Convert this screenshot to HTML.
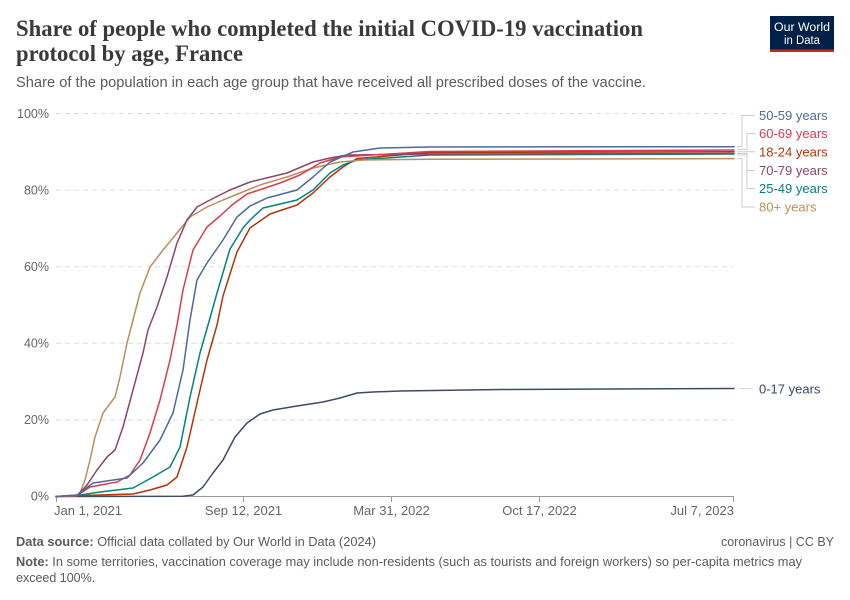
<!DOCTYPE html>
<html>
<head>
<meta charset="utf-8">
<style>
  html,body{margin:0;padding:0;background:#fff;}
  svg{display:block;font-family:"Liberation Sans",Arial,sans-serif;}
</style>
</head>
<body>
<svg width="850" height="600" viewBox="0 0 850 600" xmlns="http://www.w3.org/2000/svg">
  <rect x="0" y="0" width="850" height="600" fill="#fff"/>

  <!-- Title -->
  <text x="16" y="36" style="font-family:'Liberation Serif',serif;font-size:23px;font-weight:bold;" fill="#3a3a3a" textLength="627" lengthAdjust="spacingAndGlyphs">Share of people who completed the initial COVID-19 vaccination</text>
  <text x="16" y="61" style="font-family:'Liberation Serif',serif;font-size:23px;font-weight:bold;" fill="#3a3a3a" textLength="227" lengthAdjust="spacingAndGlyphs">protocol by age, France</text>
  <!-- Subtitle -->
  <text x="16" y="87" font-size="14.5" fill="#5b5b5b" textLength="630" lengthAdjust="spacingAndGlyphs">Share of the population in each age group that have received all prescribed doses of the vaccine.</text>

  <!-- Logo -->
  <rect x="770" y="16" width="64" height="36" fill="#002147"/>
  <rect x="770" y="49.5" width="64" height="2.5" fill="#ce261e"/>
  <text x="802" y="31" font-size="11.5" fill="#fff" text-anchor="middle" textLength="56" lengthAdjust="spacingAndGlyphs">Our World</text>
  <text x="802" y="44" font-size="11.5" fill="#fff" text-anchor="middle" textLength="36" lengthAdjust="spacingAndGlyphs">in Data</text>

  <!-- Gridlines -->
  <g stroke="#dddddd" stroke-width="1" stroke-dasharray="5,4">
    <line x1="56" y1="113.5" x2="733" y2="113.5"/>
    <line x1="56" y1="190.1" x2="733" y2="190.1"/>
    <line x1="56" y1="266.7" x2="733" y2="266.7"/>
    <line x1="56" y1="343.3" x2="733" y2="343.3"/>
    <line x1="56" y1="419.9" x2="733" y2="419.9"/>
  </g>

  <!-- Y labels -->
  <g font-size="12.5" fill="#666" text-anchor="end">
    <text x="49" y="118">100%</text>
    <text x="49" y="194.5">80%</text>
    <text x="49" y="271">60%</text>
    <text x="49" y="347.5">40%</text>
    <text x="49" y="424">20%</text>
    <text x="49" y="500.5">0%</text>
  </g>

  <!-- X axis -->
  <line x1="56" y1="496.5" x2="734" y2="496.5" stroke="#999" stroke-width="1"/>
  <g stroke="#999" stroke-width="1">
    <line x1="56.5" y1="496.5" x2="56.5" y2="502"/>
    <line x1="243.5" y1="496.5" x2="243.5" y2="502"/>
    <line x1="391.5" y1="496.5" x2="391.5" y2="502"/>
    <line x1="539.5" y1="496.5" x2="539.5" y2="502"/>
    <line x1="733.5" y1="496.5" x2="733.5" y2="502"/>
  </g>
  <g font-size="13" fill="#666">
    <text x="54" y="515">Jan 1, 2021</text>
    <text x="243.5" y="515" text-anchor="middle">Sep 12, 2021</text>
    <text x="391.5" y="515" text-anchor="middle">Mar 31, 2022</text>
    <text x="539.5" y="515" text-anchor="middle">Oct 17, 2022</text>
    <text x="734" y="515" text-anchor="end">Jul 7, 2023</text>
  </g>

  <!-- Series -->
  <g fill="none" stroke-width="1.5" stroke-linejoin="round" stroke-linecap="round">
    <!-- 0-17 -->
    <polyline stroke="#3d4b66" points="56,496.5 183,496.3 193,495 203,487 213,473 223,460 235,437 247,423 260,414 273,410 297,406 323,402 340,398 357,393 373,392 400,391 500,389.5 734,388.5"/>
    <!-- 18-24 -->
    <polyline stroke="#B13507" points="56,496.5 77,495.8 133,494 150,490 167,485 177,477 187,447 197,403 207,360 217,325 223,296 237,252 250,228 270,214 297,205 313,193 330,177 343,167 357,158.5 430,152.5 734,151.7"/>
    <!-- 25-49 -->
    <polyline stroke="#00847E" points="56,496.5 77,495.5 100,492 133,488 153,477 170,467 180,447 190,397 200,353 210,318 217,293 230,249 243,228 250,220 263,208 297,200 313,190 330,173 343,165 357,160 430,155 734,154"/>
    <!-- 80+ -->
    <polyline stroke="#BC8E5A" points="56,496.5 76,496 80,493 85,480 90,460 95,437 103,413 115,397 120,377 127,343 133,320 140,293 150,267 163,250 177,233 190,217 207,207 223,200 250,189 263,184 287,177 313,168 340,162 363,160 430,159.3 734,158.6"/>
    <!-- 70-79 -->
    <polyline stroke="#8C4569" points="56,496.5 77,495.5 87,485 97,470 107,457 115,450 123,427 133,390 143,353 148,330 157,307 167,277 177,243 187,220 197,207 210,200 230,190 250,182 287,173 313,162 330,158 347,155 430,154 734,153.5"/>
    <!-- 60-69 -->
    <polyline stroke="#D73C50" points="56,496.5 78,495 90,487 117,482 130,475 140,460 150,433 160,400 170,360 177,325 183,290 193,250 207,227 220,216 232,205 247,194 280,183 300,175 320,163 340,157 430,151.5 734,150"/>
    <!-- 50-59 -->
    <polyline stroke="#4C6A9C" points="56,496.5 77,495 93,483 127,478 143,463 160,440 173,413 183,370 190,320 197,280 207,263 223,240 237,217 250,206 267,198 297,190 313,177 330,162 353,152 380,148 430,147 734,146.7"/>
  </g>

  <!-- Legend connectors -->
  <g fill="none" stroke="#cccccc" stroke-width="1">
    <path d="M737,146.7 H742 V115.5 H755"/>
    <path d="M737,149.5 H747 V133.5 H755"/>
    <path d="M737,151.7 H755"/>
    <path d="M737,153.5 H747 V170.5 H755"/>
    <path d="M737,155 H747 V188.5 H755"/>
    <path d="M737,158.6 H742 V207 H755"/>
    <path d="M739,388.5 H753" stroke="#dddddd"/>
  </g>

  <!-- Legend labels -->
  <g font-size="13">
    <text x="759" y="120" fill="#4C6A9C">50-59 years</text>
    <text x="759" y="138" fill="#D73C50">60-69 years</text>
    <text x="759" y="156.5" fill="#B13507">18-24 years</text>
    <text x="759" y="175" fill="#8C4569">70-79 years</text>
    <text x="759" y="193" fill="#00847E">25-49 years</text>
    <text x="759" y="211.5" fill="#BC8E5A">80+ years</text>
    <text x="759" y="393.5" fill="#3b4660">0-17 years</text>
  </g>

  <!-- Footer -->
  <text x="16" y="546" font-size="12.5" fill="#5b5b5b" textLength="360" lengthAdjust="spacingAndGlyphs"><tspan font-weight="bold">Data source:</tspan> Official data collated by Our World in Data (2024)</text>
  <text x="834" y="546" font-size="12.5" fill="#5b5b5b" text-anchor="end">coronavirus | CC BY</text>
  <text x="16" y="566" font-size="12.5" fill="#5b5b5b" textLength="786" lengthAdjust="spacingAndGlyphs"><tspan font-weight="bold">Note:</tspan> In some territories, vaccination coverage may include non-residents (such as tourists and foreign workers) so per-capita metrics may</text>
  <text x="16" y="582" font-size="12.5" fill="#5b5b5b">exceed 100%.</text>
</svg>
</body>
</html>
